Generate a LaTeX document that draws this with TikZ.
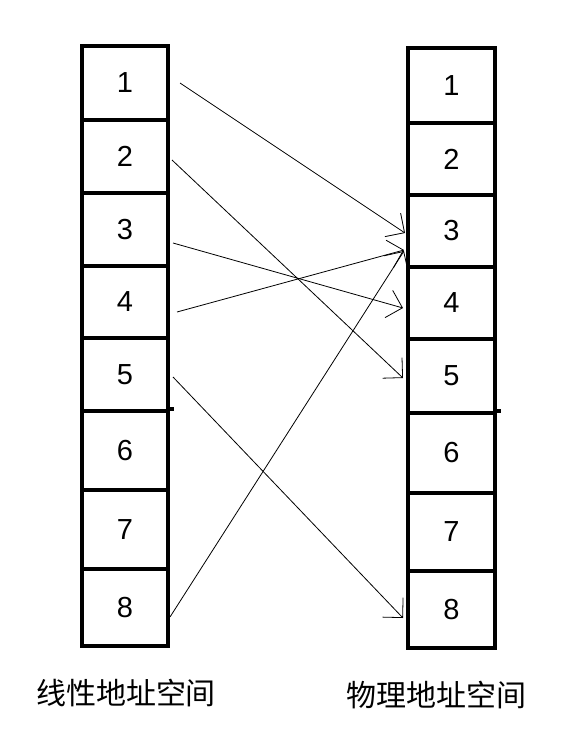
\documentclass[tikz,border=0pt]{standalone}
\usepackage{fontspec}
\setmainfont{Liberation Sans}
\newfontfamily\cjk{Noto Sans CJK SC}
\usetikzlibrary{arrows.meta,calc}
\begin{document}
\begin{tikzpicture}[x=1pt,y=-1pt,
  cell/.style={draw,line width=4pt,rectangle,inner sep=0pt,font=\fontsize{29}{29}\selectfont},
  lcell/.style={cell,minimum width=86pt},
  rcell/.style={cell,minimum width=87pt},
  map/.style={line width=0.8pt,-{Straight Barb[angle=90:20pt,line width=0.8pt]}},
  lbl/.style={font=\cjk\fontsize{30}{30}\selectfont,inner sep=0pt}]
\useasboundingbox (0,0) rectangle (572,750);
\fill[white] (0,0) rectangle (572,750);
% left column
\node[lcell,minimum height=74pt] (L1) at (125,83) {1};
\node[lcell,minimum height=73pt] (L2) at (125,156.5) {2};
\node[lcell,minimum height=73pt] (L3) at (125,229.5) {3};
\node[lcell,minimum height=72pt] (L4) at (125,302) {4};
\node[lcell,minimum height=73pt] (L5) at (125,374.5) {5};
\node[lcell,minimum height=79pt] (L6) at (125,450.5) {6};
\node[lcell,minimum height=79pt] (L7) at (125,529.5) {7};
\node[lcell,minimum height=77pt] (L8) at (125,607.5) {8};
% right column
\node[rcell,minimum height=75pt] (R1) at (451.5,85.5) {1};
\node[rcell,minimum height=72pt] (R2) at (451.5,159) {2};
\node[rcell,minimum height=72pt] (R3) at (451.5,231) {3};
\node[rcell,minimum height=72pt] (R4) at (451.5,303) {4};
\node[rcell,minimum height=74pt] (R5) at (451.5,376) {5};
\node[rcell,minimum height=80pt] (R6) at (451.5,453) {6};
\node[rcell,minimum height=78pt] (R7) at (451.5,532) {7};
\node[rcell,minimum height=77pt] (R8) at (451.5,609.5) {8};
% small overhangs of the 5/6 dividers
\draw[line width=4pt] (L6.north east) -- ++(4,0);
\draw[line width=4pt] (R6.north east) -- ++(4,0);
% mappings
\draw[map] ($(L1.east)+(10,0)$) -- ($(R3.west)+(-1,2)$);
\draw[map] ($(L2.east)+(2,3.5)$) -- ($(R5.west)+(-3,2)$);
\draw[map] ($(L3.east)+(3,13.5)$) -- ($(R4.west)+(-3,5)$);
\draw[map] ($(L4.east)+(7,10)$) -- ($(R3.west)+(-2,19)$);
\draw[map] ($(L5.east)+(3,2.5)$) -- ($(R8.west)+(-3,8.5)$);
\draw[map] ($(L8.east)+(0,9.5)$) -- ($(R3.west)+(-2,20)$);
% captions
\node[lbl] (capL) at (126,693) {线性地址空间};
\node[lbl] (capR) at (436,695) {物理地址空间};
\end{tikzpicture}
\end{document}
